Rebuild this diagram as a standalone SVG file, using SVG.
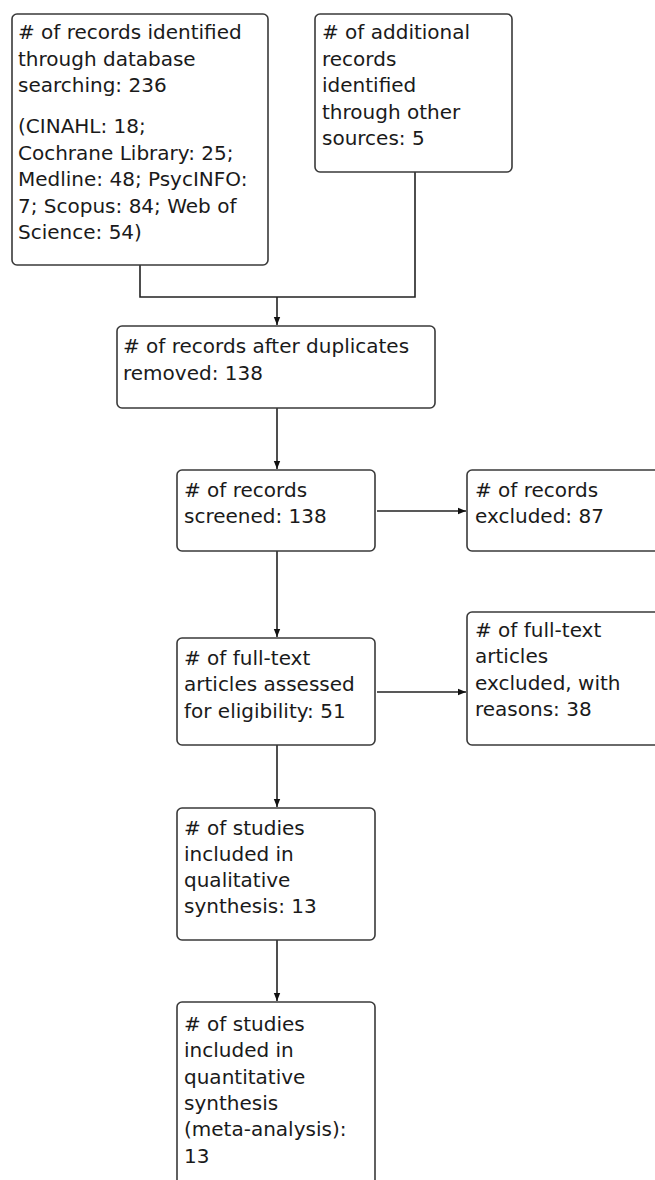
<svg xmlns="http://www.w3.org/2000/svg" width="655" height="1180" viewBox="0 0 655 1180">
<style>
.box{fill:#fff;stroke:#3a3a3a;stroke-width:1.6}
.t{font-family:"DejaVu Sans",Verdana,sans-serif;font-size:20px;fill:#1a1a1a}
.ln{fill:none;stroke:#222;stroke-width:1.6}
</style>
<defs>
<marker id="ah" viewBox="0 0 10 10" refX="10" refY="5" markerWidth="8" markerHeight="8" markerUnits="userSpaceOnUse" orient="auto">
<path d="M0,1 L10,5 L0,9 Z" fill="#111"/>
</marker>
</defs>
<rect width="655" height="1180" fill="#fff"/>
<g id="connectors">
<polyline class="ln" points="140,265 140,297 415,297 415,172"/>
<line class="ln" x1="277" y1="297" x2="277" y2="325" marker-end="url(#ah)"/>
<line class="ln" x1="277" y1="408" x2="277" y2="469" marker-end="url(#ah)"/>
<line class="ln" x1="377" y1="511" x2="466" y2="511" marker-end="url(#ah)"/>
<line class="ln" x1="277" y1="551" x2="277" y2="637" marker-end="url(#ah)"/>
<line class="ln" x1="377" y1="692" x2="466" y2="692" marker-end="url(#ah)"/>
<line class="ln" x1="277" y1="745" x2="277" y2="807" marker-end="url(#ah)"/>
<line class="ln" x1="277" y1="940" x2="277" y2="1001" marker-end="url(#ah)"/>
</g>
<g id="n1">
<rect class="box" x="12" y="14" width="256" height="251" rx="5"/>
<text class="t" x="18"><tspan x="18" y="39"> # of records identified</tspan><tspan x="18" y="66">through database</tspan><tspan x="18" y="92">searching: 236</tspan><tspan x="18" y="133">(CINAHL: 18;</tspan><tspan x="18" y="160">Cochrane Library: 25;</tspan><tspan x="18" y="186">Medline: 48; PsycINFO:</tspan><tspan x="18" y="213">7; Scopus: 84; Web of</tspan><tspan x="18" y="239">Science: 54)</tspan></text>
</g>
<g id="n2">
<rect class="box" x="315" y="14" width="197" height="158" rx="5"/>
<text class="t"><tspan x="322" y="39"># of additional</tspan><tspan x="322" y="66">records</tspan><tspan x="322" y="92">identified</tspan><tspan x="322" y="119">through other</tspan><tspan x="322" y="145">sources: 5</tspan></text>
</g>
<g id="n3">
<rect class="box" x="117" y="326" width="318" height="82" rx="5"/>
<text class="t"><tspan x="123" y="353"># of records after duplicates</tspan><tspan x="123" y="380">removed: 138</tspan></text>
</g>
<g id="n4">
<rect class="box" x="177" y="470" width="198" height="81" rx="5"/>
<text class="t"><tspan x="184" y="497"># of records</tspan><tspan x="184" y="523">screened: 138</tspan></text>
</g>
<g id="n5">
<rect class="box" x="467" y="470" width="200" height="81" rx="5"/>
<text class="t"><tspan x="475" y="497"># of records</tspan><tspan x="475" y="523">excluded: 87</tspan></text>
</g>
<g id="n6">
<rect class="box" x="177" y="638" width="198" height="107" rx="5"/>
<text class="t"><tspan x="184" y="665"># of full-text</tspan><tspan x="184" y="691">articles assessed</tspan><tspan x="184" y="718">for eligibility: 51</tspan></text>
</g>
<g id="n7">
<rect class="box" x="467" y="612" width="200" height="133" rx="5"/>
<text class="t"><tspan x="475" y="637"># of full-text</tspan><tspan x="475" y="663">articles</tspan><tspan x="475" y="690">excluded, with</tspan><tspan x="475" y="716">reasons: 38</tspan></text>
</g>
<g id="n8">
<rect class="box" x="177" y="808" width="198" height="132" rx="5"/>
<text class="t"><tspan x="184" y="835"># of studies</tspan><tspan x="184" y="861">included in</tspan><tspan x="184" y="887">qualitative</tspan><tspan x="184" y="913">synthesis: 13</tspan></text>
</g>
<g id="n9">
<rect class="box" x="177" y="1002" width="198" height="200" rx="5"/>
<text class="t"><tspan x="184" y="1031"># of studies</tspan><tspan x="184" y="1057">included in</tspan><tspan x="184" y="1084">quantitative</tspan><tspan x="184" y="1110">synthesis</tspan><tspan x="184" y="1136">(meta-analysis):</tspan><tspan x="184" y="1163">13</tspan></text>
</g>
</svg>
